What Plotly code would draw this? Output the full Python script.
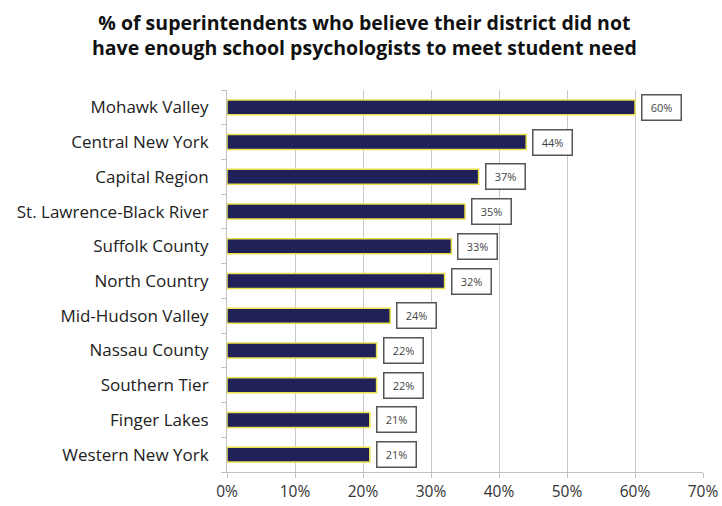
import plotly.graph_objects as go

regions = ["Mohawk Valley", "Central New York", "Capital Region", "St. Lawrence-Black River",
           "Suffolk County", "North Country", "Mid-Hudson Valley", "Nassau County",
           "Southern Tier", "Finger Lakes", "Western New York"]
values = [60, 44, 37, 35, 33, 32, 24, 22, 22, 21, 21]
x_ticks = [0, 10, 20, 30, 40, 50, 60, 70]
x_tick_labels = ["0%", "10%", "20%", "30%", "40%", "50%", "60%", "70%"]
title_text = ("% of superintendents who believe their district did not<br>"
              "have enough school psychologists to meet student need")

FONT = "Open Sans"

fig = go.Figure()
fig.add_trace(go.Bar(
    x=values, y=regions, orientation="h",
    marker=dict(color="#1f2158", line=dict(color="#e8e04a", width=1.5)),
    width=0.43,
))

for r, v in zip(regions, values):
    fig.add_annotation(x=v, y=r, text=f"{v}%", xanchor="left", xshift=6,
                       showarrow=False, font=dict(size=11, color="#444", family=FONT),
                       width=32, height=18, align="center",
                       bgcolor="white", bordercolor="#555", borderwidth=1.5, borderpad=3)

fig.add_annotation(text=title_text, xref="paper", yref="paper", x=0.288, y=1.143,
                   xanchor="center", yanchor="middle", showarrow=False,
                   font=dict(family=FONT, size=19.5, color="#111", weight="bold"))

fig.update_layout(
    width=722, height=506,
    margin=dict(l=227, r=19, t=90, b=34, autoexpand=False),
    paper_bgcolor="white", plot_bgcolor="white",
    showlegend=False,
    xaxis=dict(range=[0, 70], tickvals=x_ticks, ticktext=x_tick_labels, automargin=False,
               showgrid=True, gridcolor="#c8c8c8", gridwidth=1,
               showline=True, linecolor="#c0c0c0", ticks="outside", ticklen=5, tickcolor="#c0c0c0",
               tickfont=dict(family=FONT, size=15.5, color="#333"), zeroline=False),
    yaxis=dict(categoryorder="array", categoryarray=regions[::-1], automargin=False,
               showline=True, linecolor="#c0c0c0", ticks="outside", tickson="boundaries",
               ticklen=5, tickcolor="#c0c0c0", ticklabelstandoff=14,
               tickfont=dict(family=FONT, size=17, color="#222")),
    bargap=0.57,
)

fig.write_html("out.html")
